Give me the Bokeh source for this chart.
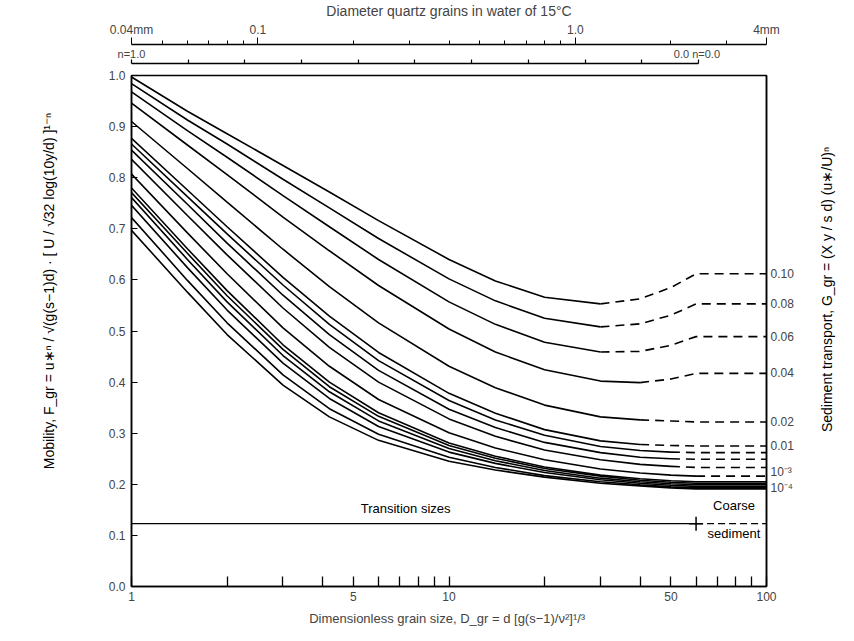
import math
from bokeh.plotting import figure
from bokeh.layouts import column, row
from bokeh.models import (Range1d, LogScale, LinearAxis, LogAxis,
                          FixedTicker, PrintfTickFormatter)
from bokeh.embed import file_html
from bokeh.resources import INLINE
from bokeh.core.properties import value

FONT = "Liberation Sans"

# ---------------- data ----------------
# Dimensionless grain size D_gr at which the curves were read
D_GRID = [1, 1.5, 2, 3, 4.2, 6, 10, 14, 20, 30, 40, 50, 60, 100]

# Mobility F_gr for each curve of constant sediment transport G_gr
F_G0_10 = [0.997, 0.930, 0.886, 0.824, 0.772, 0.716, 0.640, 0.598, 0.566, 0.553, 0.563, 0.585, 0.612, 0.612]
F_G0_08 = [0.984, 0.913, 0.866, 0.797, 0.741, 0.681, 0.602, 0.559, 0.525, 0.508, 0.514, 0.531, 0.553, 0.553]
F_G0_06 = [0.968, 0.892, 0.840, 0.765, 0.704, 0.640, 0.557, 0.513, 0.478, 0.459, 0.460, 0.472, 0.489, 0.489]
F_G0_04 = [0.946, 0.864, 0.806, 0.723, 0.657, 0.589, 0.504, 0.459, 0.424, 0.402, 0.399, 0.406, 0.417, 0.417]
F_G0_02 = [0.910, 0.818, 0.752, 0.660, 0.587, 0.516, 0.431, 0.389, 0.355, 0.332, 0.326, 0.324, 0.322, 0.322]
F_G0_01 = [0.877, 0.776, 0.704, 0.605, 0.529, 0.458, 0.378, 0.339, 0.307, 0.285, 0.278, 0.276, 0.275, 0.275]
F_G0_008 = [0.866, 0.763, 0.690, 0.590, 0.513, 0.442, 0.364, 0.326, 0.296, 0.274, 0.266, 0.263, 0.262, 0.262]
F_G0_006 = [0.854, 0.748, 0.672, 0.570, 0.493, 0.423, 0.347, 0.311, 0.282, 0.262, 0.253, 0.250, 0.249, 0.249]
F_G0_004 = [0.836, 0.726, 0.649, 0.545, 0.468, 0.400, 0.328, 0.294, 0.267, 0.248, 0.239, 0.235, 0.233, 0.233]
F_G0_002 = [0.807, 0.692, 0.612, 0.506, 0.431, 0.366, 0.301, 0.271, 0.248, 0.230, 0.222, 0.218, 0.216, 0.216]
F_G0_001 = [0.780, 0.661, 0.579, 0.473, 0.400, 0.340, 0.281, 0.255, 0.234, 0.218, 0.211, 0.207, 0.205, 0.205]
F_G0_0008 = [0.771, 0.652, 0.569, 0.464, 0.391, 0.333, 0.276, 0.251, 0.231, 0.216, 0.208, 0.204, 0.202, 0.202]
F_G0_0006 = [0.761, 0.640, 0.557, 0.452, 0.381, 0.324, 0.270, 0.246, 0.227, 0.212, 0.205, 0.201, 0.199, 0.199]
F_G0_0004 = [0.746, 0.624, 0.541, 0.437, 0.368, 0.313, 0.263, 0.241, 0.223, 0.209, 0.202, 0.198, 0.196, 0.196]
F_G0_0002 = [0.722, 0.599, 0.516, 0.414, 0.348, 0.298, 0.253, 0.233, 0.217, 0.205, 0.199, 0.195, 0.193, 0.193]
F_G0_0001 = [0.697, 0.576, 0.493, 0.394, 0.332, 0.286, 0.245, 0.228, 0.214, 0.202, 0.197, 0.193, 0.191, 0.191]

CURVES = [F_G0_10, F_G0_08, F_G0_06, F_G0_04, F_G0_02, F_G0_01, F_G0_008, F_G0_006,
          F_G0_004, F_G0_002, F_G0_001, F_G0_0008, F_G0_0006, F_G0_0004, F_G0_0002, F_G0_0001]
# D_gr up to which each curve is drawn solid (dashed beyond)
SOLID_UNTIL = [30, 30, 30, 40, 40, 40, 50, 50, 50, 60, 100, 100, 100, 100, 100, 100]

# right-hand labels (G_gr values)
G_LABELS = ["0.10", "0.08", "0.06", "0.04", "0.02", "0.01", "10⁻³", "10⁻⁴"]
G_LABEL_F = [0.612, 0.553, 0.489, 0.417, 0.322, 0.275, 0.224, 0.192]

# transition line
TRANSITION_D = [1, 60]
COARSE_D = [60, 100]
TRANSITION_F = 0.123

# axes ticks
Y_TICKS = [0.0, 0.1, 0.2, 0.3, 0.4, 0.5, 0.6, 0.7, 0.8, 0.9, 1.0]
D_LABELLED = [1, 5, 10, 50, 100]
D_OTHER = [2, 3, 4, 6, 7, 8, 9, 20, 30, 40, 60, 70, 80, 90]
MM_MAJOR = [0.04, 0.1, 1.0, 4.0]
MM_LABELS = ["0.04mm", "0.1", "1.0", "4mm"]
MM_MINOR = [0.05, 0.06, 0.07, 0.08, 0.09, 0.2, 0.3, 0.4, 0.5, 0.6, 0.7, 0.8, 0.9, 2.0, 3.0]
N_TICKS = [1.0, 0.9, 0.8, 0.7, 0.6, 0.5, 0.4, 0.3, 0.2, 0.1, 0.0]
N_START_LABEL = "n=1.0"
N_END_LABEL = "0.0  n=0.0"

TITLE = "Diameter quartz grains in water of 15°C"
X_LABEL = "Dimensionless grain size,  D_gr = d [g(s−1)/ν²]¹/³"
Y_LABEL = "Mobility,  F_gr = u∗ⁿ / √(g(s−1)d) · [ U / √32 log(10y/d) ]¹⁻ⁿ"
Y2_LABEL = "Sediment transport,  G_gr = (X y / s d) (u∗/U)ⁿ"


def d_of_n(n):
    """grain size D_gr at which the exponent n = 1 - 0.56 log10(D_gr) takes value n"""
    return 10 ** ((1.0 - n) / 0.56)


# layout sizes (px)
W = 854
LEFT_W = 70      # strip holding the left title
RIGHT_W = 50     # strip holding the right title
MAIN_W = W - LEFT_W - RIGHT_W
H_TOP = 68
H_MAIN = 641 - H_TOP
MB_TOP, MB_BOT = 7, 55


def clean(fig):
    fig.xgrid.visible = False
    fig.ygrid.visible = False
    fig.background_fill_color = "white"
    fig.border_fill_color = "white"


# ---------------- main figure ----------------
p = figure(width=MAIN_W, height=H_MAIN, x_axis_type="log",
           x_range=Range1d(1, 100), y_range=Range1d(0, 1.0),
           output_backend="svg", toolbar_location=None,
           min_border_left=131 - LEFT_W, min_border_right=MAIN_W + LEFT_W - 766,
           min_border_top=MB_TOP, min_border_bottom=MB_BOT)
clean(p)
p.outline_line_color = "black"
p.outline_line_width = 1.5

# bottom axis
bx = p.below[0]
bx.ticker = FixedTicker(ticks=D_LABELLED, minor_ticks=D_OTHER)
bx.major_label_overrides = {t: str(t) for t in D_LABELLED}
bx.major_tick_in = 10
bx.major_tick_out = 0
bx.minor_tick_in = 10
bx.minor_tick_out = 0
bx.axis_line_width = 1.5
bx.major_tick_line_width = 1.3
bx.minor_tick_line_width = 1.3
bx.minor_tick_line_color = "black"
bx.major_label_standoff = 5
bx.major_label_text_font = FONT
bx.major_label_text_font_size = "12px"
bx.axis_label = X_LABEL
bx.axis_label_standoff = 7
bx.axis_label_text_font = FONT
bx.axis_label_text_font_size = "13px"
bx.axis_label_text_font_style = "normal"

# left axis
ly = p.left[0]
ly.ticker = FixedTicker(ticks=Y_TICKS)
ly.formatter = PrintfTickFormatter(format="%.1f")
ly.major_tick_in = 6
ly.major_tick_out = 0
ly.minor_tick_in = 0
ly.minor_tick_out = 0
ly.axis_line_width = 1.5
ly.major_label_standoff = 6
ly.major_label_text_font = FONT
ly.major_label_text_font_size = "12px"

# right axis with G_gr labels
ry = LinearAxis(ticker=FixedTicker(ticks=G_LABEL_F),
                major_label_overrides=dict(zip(G_LABEL_F, G_LABELS)),
                major_tick_in=0, major_tick_out=0, minor_tick_in=0, minor_tick_out=0,
                axis_line_width=1.5, major_label_standoff=4,
                major_label_text_font=FONT, major_label_text_font_size="12px")
p.add_layout(ry, "right")

# curves
for f, lim in zip(CURVES, SOLID_UNTIL):
    xs = [d for d in D_GRID if d <= lim]
    ys = [v for d, v in zip(D_GRID, f) if d <= lim]
    p.line(xs, ys, line_color="black", line_width=1.6)
    xd = [d for d in D_GRID if d >= lim]
    yd = [v for d, v in zip(D_GRID, f) if d >= lim]
    if len(xd) > 1:
        p.line(xd, yd, line_color="black", line_width=1.6, line_dash="9 6")

# transition sizes line
p.line(TRANSITION_D, [TRANSITION_F] * 2, line_color="black", line_width=1.4)
p.line(COARSE_D, [TRANSITION_F] * 2, line_color="black", line_width=1.4, line_dash="7 4")
p.scatter([TRANSITION_D[1]], [TRANSITION_F], marker="cross", size=14,
          line_color="black", line_width=1.5)

p.text(x=[7.3], y=[0.152], text=["Transition sizes"], text_font=value(FONT),
       text_font_size="13px", text_align="center", text_baseline="middle")
p.text(x=[79], y=[0.158], text=["Coarse"], text_font=value(FONT),
       text_font_size="13px", text_align="center", text_baseline="middle")
p.text(x=[79], y=[0.104], text=["sediment"], text_font=value(FONT),
       text_font_size="13px", text_align="center", text_baseline="middle")

# ---------------- side strips holding the rotated axis titles ----------------
left = figure(width=LEFT_W, height=H_MAIN, x_range=Range1d(0, LEFT_W), y_range=p.y_range,
              x_axis_location=None, y_axis_location=None,
              output_backend="svg", toolbar_location=None,
              min_border_left=0, min_border_right=0,
              min_border_top=MB_TOP, min_border_bottom=MB_BOT)
clean(left)
left.outline_line_color = None
left.text(x=[48], y=[0.58], text=[Y_LABEL], angle=math.pi / 2,
          text_font=value(FONT), text_font_size="14px",
          text_align="center", text_baseline="middle")

right = figure(width=RIGHT_W, height=H_MAIN, x_range=Range1d(0, RIGHT_W), y_range=p.y_range,
               x_axis_location=None, y_axis_location=None,
               output_backend="svg", toolbar_location=None,
               min_border_left=0, min_border_right=0,
               min_border_top=MB_TOP, min_border_bottom=MB_BOT)
clean(right)
right.outline_line_color = None
right.text(x=[22], y=[0.585], text=[Y2_LABEL], angle=math.pi / 2,
           text_font=value(FONT), text_font_size="14px",
           text_align="center", text_baseline="middle")

# ---------------- top strip: exponent n and grain diameter ----------------
top = figure(width=W, height=H_TOP, x_axis_type="log", x_range=p.x_range,
             y_range=Range1d(0, 1), x_axis_location=None, y_axis_location=None,
             output_backend="svg", toolbar_location=None,
             min_border_left=131, min_border_right=W - 766,
             min_border_top=60, min_border_bottom=0)
top.extra_x_ranges = {"mm": Range1d(0.04, 4)}
top.extra_x_scales = {"mm": LogScale()}
clean(top)
top.outline_line_color = None

top.title.text = TITLE
top.title.align = "center"
top.title.offset = 30
top.title.standoff = 1
top.title.text_font = FONT
top.title.text_font_size = "14px"
top.title.text_font_style = "normal"

# exponent n scale (closest to the plot): line from n=1.0 to n=0.0, ticks every 0.1
n_pos = [d_of_n(n) for n in N_TICKS]
nax = LogAxis(ticker=FixedTicker(ticks=[n_pos[0], n_pos[-1]], minor_ticks=n_pos[1:-1]),
              bounds=(n_pos[0], n_pos[-1]),
              major_label_overrides={n_pos[0]: N_START_LABEL, n_pos[-1]: N_END_LABEL},
              major_tick_out=4, major_tick_in=0, minor_tick_out=4, minor_tick_in=0,
              major_tick_line_color="black", minor_tick_line_color="black",
              major_tick_line_width=1.2, minor_tick_line_width=1.2,
              axis_line_width=1.4, major_label_standoff=0,
              major_label_text_font=FONT, major_label_text_font_size="11px")
top.add_layout(nax, "above")

# grain diameter in mm
mmax = LogAxis(x_range_name="mm", ticker=FixedTicker(ticks=MM_MAJOR, minor_ticks=MM_MINOR),
               major_label_overrides=dict(zip(MM_MAJOR, MM_LABELS)),
               major_tick_out=7, major_tick_in=0, minor_tick_out=4, minor_tick_in=0,
               minor_tick_line_color="black",
               axis_line_width=1.4, major_label_standoff=1,
               major_label_text_font=FONT, major_label_text_font_size="12px")
top.add_layout(mmax, "above")

layout = column(top, row(left, p, right, spacing=0), spacing=0)
open("out.html", "w").write(file_html(layout, INLINE))
